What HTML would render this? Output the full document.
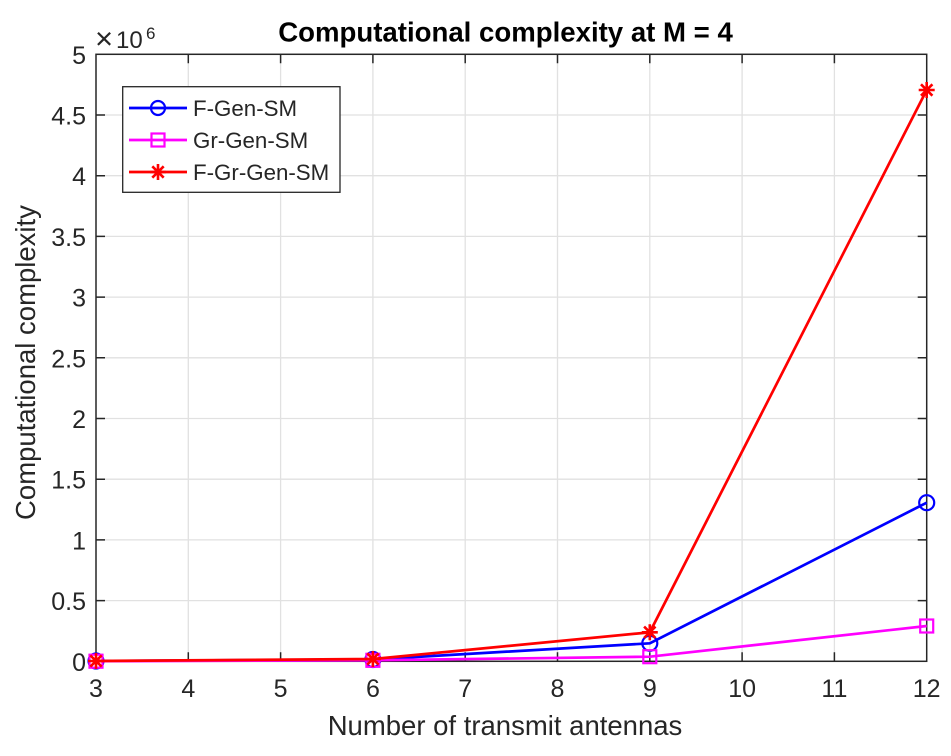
<!DOCTYPE html>
<html>
<head>
<meta charset="utf-8">
<style>
  html, body { margin: 0; padding: 0; background: #ffffff; }
  svg { display: block; }
  text { font-family: "Liberation Sans", Arial, sans-serif; fill: #262626; }
</style>
</head>
<body>
<svg width="951" height="756" viewBox="0 0 951 756" xmlns="http://www.w3.org/2000/svg">
  <rect x="0" y="0" width="951" height="756" fill="#ffffff"/>

  <!-- grid -->
  <g stroke="#e1e1e1" stroke-width="1.3">
    <line x1="188.3" y1="54.3" x2="188.3" y2="661.3"/>
    <line x1="280.6" y1="54.3" x2="280.6" y2="661.3"/>
    <line x1="372.9" y1="54.3" x2="372.9" y2="661.3"/>
    <line x1="465.2" y1="54.3" x2="465.2" y2="661.3"/>
    <line x1="557.5" y1="54.3" x2="557.5" y2="661.3"/>
    <line x1="649.8" y1="54.3" x2="649.8" y2="661.3"/>
    <line x1="742.1" y1="54.3" x2="742.1" y2="661.3"/>
    <line x1="834.4" y1="54.3" x2="834.4" y2="661.3"/>

    <line x1="96" y1="600.6" x2="926.7" y2="600.6"/>
    <line x1="96" y1="539.9" x2="926.7" y2="539.9"/>
    <line x1="96" y1="479.2" x2="926.7" y2="479.2"/>
    <line x1="96" y1="418.5" x2="926.7" y2="418.5"/>
    <line x1="96" y1="357.8" x2="926.7" y2="357.8"/>
    <line x1="96" y1="297.1" x2="926.7" y2="297.1"/>
    <line x1="96" y1="236.4" x2="926.7" y2="236.4"/>
    <line x1="96" y1="175.7" x2="926.7" y2="175.7"/>
    <line x1="96" y1="115.0" x2="926.7" y2="115.0"/>
  </g>

  <!-- ticks -->
  <g stroke="#262626" stroke-width="1.5">
    <path d="M188.3 661.3v-9M280.6 661.3v-9M372.9 661.3v-9M465.2 661.3v-9M557.5 661.3v-9M649.8 661.3v-9M742.1 661.3v-9M834.4 661.3v-9"/>
    <path d="M188.3 54.3v9M280.6 54.3v9M372.9 54.3v9M465.2 54.3v9M557.5 54.3v9M649.8 54.3v9M742.1 54.3v9M834.4 54.3v9"/>
    <path d="M96 600.6h9M96 539.9h9M96 479.2h9M96 418.5h9M96 357.8h9M96 297.1h9M96 236.4h9M96 175.7h9M96 115h9"/>
    <path d="M926.7 600.6h-9M926.7 539.9h-9M926.7 479.2h-9M926.7 418.5h-9M926.7 357.8h-9M926.7 297.1h-9M926.7 236.4h-9M926.7 175.7h-9M926.7 115h-9"/>
  </g>

  <!-- axes box -->
  <rect x="96" y="54.3" width="830.7" height="607" fill="none" stroke="#262626" stroke-width="1.5"/>

  <!-- y tick labels -->
  <g font-size="25" text-anchor="end">
    <text x="86" y="670.8">0</text>
    <text x="86" y="610.1">0.5</text>
    <text x="86" y="549.4">1</text>
    <text x="86" y="488.7">1.5</text>
    <text x="86" y="428">2</text>
    <text x="86" y="367.3">2.5</text>
    <text x="86" y="306.6">3</text>
    <text x="86" y="245.9">3.5</text>
    <text x="86" y="185.2">4</text>
    <text x="86" y="124.5">4.5</text>
    <text x="86" y="63.8">5</text>
  </g>

  <!-- x tick labels -->
  <g font-size="25" text-anchor="middle">
    <text x="96" y="697">3</text>
    <text x="188.3" y="697">4</text>
    <text x="280.6" y="697">5</text>
    <text x="372.9" y="697">6</text>
    <text x="465.2" y="697">7</text>
    <text x="557.5" y="697">8</text>
    <text x="649.8" y="697">9</text>
    <text x="742.1" y="697">10</text>
    <text x="834.4" y="697">11</text>
    <text x="926.7" y="697">12</text>
  </g>

  <!-- exponent -->
  <text x="95" y="49" font-size="31">×</text>
  <text x="116" y="48" font-size="24">10</text>
  <text x="146" y="39" font-size="17">6</text>

  <!-- title -->
  <text x="505.5" y="41.7" font-size="27.6" font-weight="bold" text-anchor="middle" style="fill:#000">Computational complexity at M = 4</text>

  <!-- axis labels -->
  <text x="505" y="735" font-size="27.5" text-anchor="middle">Number of transmit antennas</text>
  <text transform="translate(35,362.5) rotate(-90)" x="0" y="0" font-size="27.5" text-anchor="middle">Computational complexity</text>

  <!-- series: F-Gen-SM (blue) -->
  <polyline points="96,661 372.9,659.5 649.8,643.3 926.7,502.7" fill="none" stroke="#0000ff" stroke-width="2.7"/>
  <g fill="none" stroke="#0000ff" stroke-width="2.2">
    <circle cx="96" cy="661" r="7.5"/>
    <circle cx="372.9" cy="659.5" r="7.5"/>
    <circle cx="649.8" cy="643.3" r="7.5"/>
    <circle cx="926.7" cy="502.7" r="7.5"/>
  </g>

  <!-- series: Gr-Gen-SM (magenta) -->
  <polyline points="96,661.2 372.9,660.3 649.8,656.7 926.7,626" fill="none" stroke="#ff00ff" stroke-width="2.7"/>
  <g fill="none" stroke="#ff00ff" stroke-width="2.2">
    <rect x="89.5" y="654.7" width="13" height="13"/>
    <rect x="366.4" y="653.8" width="13" height="13"/>
    <rect x="643.3" y="650.2" width="13" height="13"/>
    <rect x="920.2" y="619.5" width="13" height="13"/>
  </g>

  <!-- series: F-Gr-Gen-SM (red) -->
  <polyline points="96,661 372.9,659 649.8,632.3 926.7,90" fill="none" stroke="#ff0000" stroke-width="2.7"/>
  <g fill="none" stroke="#ff0000" stroke-width="2.6">
    <path d="M88 661h16M96 653v16M90.3 655.3l11.4 11.4M101.7 655.3l-11.4 11.4"/>
    <path d="M364.9 659h16M372.9 651v16M367.2 653.3l11.4 11.4M378.6 653.3l-11.4 11.4"/>
    <path d="M641.8 632.3h16M649.8 624.3v16M644.1 626.6l11.4 11.4M655.5 626.6l-11.4 11.4"/>
    <path d="M918.7 90h16M926.7 82v16M921 84.3l11.4 11.4M932.4 84.3l-11.4 11.4"/>
  </g>

  <!-- legend -->
  <rect x="122.7" y="86.7" width="217.3" height="105.6" fill="#ffffff" stroke="#262626" stroke-width="1.3"/>
  <line x1="129" y1="108" x2="187" y2="108" stroke="#0000ff" stroke-width="2.7"/>
  <circle cx="158" cy="108" r="7" fill="none" stroke="#0000ff" stroke-width="2.2"/>
  <line x1="129" y1="140" x2="187" y2="140" stroke="#ff00ff" stroke-width="2.7"/>
  <rect x="151.5" y="133.5" width="13" height="13" fill="none" stroke="#ff00ff" stroke-width="2.2"/>
  <line x1="129" y1="172" x2="187" y2="172" stroke="#ff0000" stroke-width="2.7"/>
  <path d="M150 172h16M158 164v16M152.3 166.3l11.4 11.4M163.7 166.3l-11.4 11.4" fill="none" stroke="#ff0000" stroke-width="2.6"/>
  <g font-size="22.3">
    <text x="193" y="116">F-Gen-SM</text>
    <text x="193" y="148">Gr-Gen-SM</text>
    <text x="193" y="180">F-Gr-Gen-SM</text>
  </g>
</svg>
</body>
</html>
